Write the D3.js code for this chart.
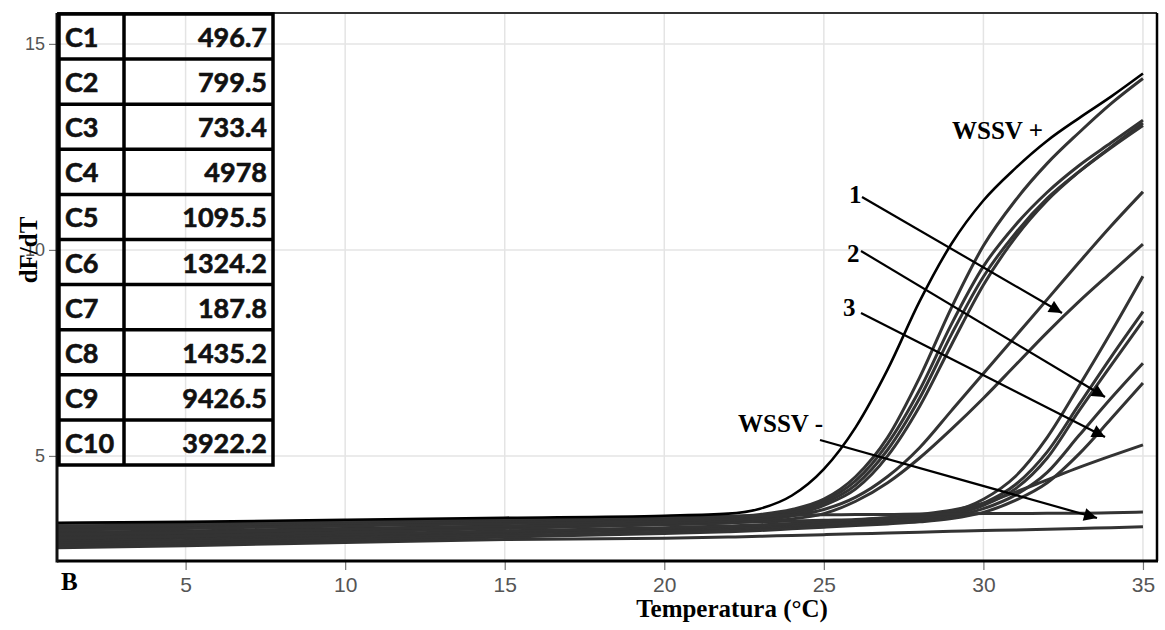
<!DOCTYPE html>
<html>
<head>
<meta charset="utf-8">
<script src="https://cdn.jsdelivr.net/npm/d3@7"></script>
<style>
  html, body { margin: 0; padding: 0; background: #fff; }
  svg { display: block; }
</style>
</head>
<body>
<svg id="chart" width="1165" height="630"></svg>
<script>
// Melt-curve derivative readings (dF/dT) sampled at these temperatures (°C)
const temps = [1, 5, 10, 15, 20, 22, 23, 24, 25, 26, 27, 28, 29, 30, 31, 32, 33, 34, 35];

// Positive control
const wssvPos = [3.38, 3.40, 3.45, 3.50, 3.55, 3.60, 3.72, 4.04, 4.68, 5.70, 7.10, 8.75, 10.15, 11.20, 11.98, 12.65, 13.20, 13.72, 14.28];
// Negative controls
const wssvNeg1 = [3.36, 3.38, 3.42, 3.47, 3.52, 3.54, 3.55, 3.56, 3.57, 3.58, 3.58, 3.59, 3.59, 3.60, 3.60, 3.61, 3.61, 3.62, 3.64];
const wssvNeg2 = [2.77, 2.82, 2.90, 2.97, 3.00, 3.03, 3.05, 3.07, 3.09, 3.11, 3.13, 3.15, 3.17, 3.19, 3.20, 3.22, 3.24, 3.26, 3.28];
// Sample curves
const sampleA1 = [3.30, 3.33, 3.38, 3.42, 3.48, 3.52, 3.58, 3.70, 3.95, 4.50, 5.45, 6.90, 8.60, 10.10, 11.20, 12.10, 12.85, 13.55, 14.16];
const sampleA2 = [3.20, 3.24, 3.30, 3.36, 3.43, 3.48, 3.55, 3.65, 3.90, 4.40, 5.30, 6.60, 8.20, 9.60, 10.60, 11.40, 12.05, 12.60, 13.15];
const sampleA3 = [3.10, 3.14, 3.22, 3.30, 3.38, 3.43, 3.50, 3.60, 3.85, 4.30, 5.15, 6.40, 7.95, 9.35, 10.40, 11.25, 11.90, 12.48, 13.02];
const sampleA4 = [3.00, 3.05, 3.15, 3.24, 3.33, 3.38, 3.45, 3.55, 3.80, 4.20, 5.00, 6.20, 7.70, 9.15, 10.30, 11.20, 11.90, 12.50, 13.08];
const sampleB1 = [3.25, 3.28, 3.33, 3.38, 3.44, 3.47, 3.50, 3.55, 3.70, 4.00, 4.50, 5.20, 6.10, 7.00, 7.90, 8.80, 9.70, 10.58, 11.41];
const sampleB2 = [3.05, 3.10, 3.18, 3.26, 3.34, 3.38, 3.42, 3.47, 3.60, 3.90, 4.35, 4.95, 5.65, 6.40, 7.20, 8.00, 8.75, 9.45, 10.14];
const sampleC1 = [3.15, 3.18, 3.24, 3.30, 3.36, 3.38, 3.40, 3.42, 3.44, 3.46, 3.50, 3.55, 3.65, 3.95, 4.50, 5.45, 6.70, 8.00, 9.36];
const sampleC2 = [2.95, 3.00, 3.08, 3.16, 3.24, 3.27, 3.30, 3.33, 3.36, 3.40, 3.44, 3.50, 3.60, 3.85, 4.30, 5.10, 6.25, 7.40, 8.50];
const sampleC3 = [2.90, 2.95, 3.03, 3.12, 3.20, 3.24, 3.27, 3.30, 3.34, 3.38, 3.42, 3.48, 3.56, 3.80, 4.20, 4.95, 6.10, 7.20, 8.28];
const sampleC4 = [2.85, 2.90, 2.98, 3.07, 3.15, 3.19, 3.22, 3.26, 3.30, 3.34, 3.38, 3.44, 3.52, 3.72, 4.05, 4.60, 5.50, 6.40, 7.25];
const sampleC5 = [2.80, 2.86, 2.94, 3.03, 3.12, 3.16, 3.19, 3.23, 3.27, 3.31, 3.35, 3.40, 3.48, 3.63, 3.92, 4.35, 5.05, 5.90, 6.77];
const sampleC6 = [3.00, 3.04, 3.10, 3.18, 3.26, 3.30, 3.33, 3.36, 3.40, 3.44, 3.50, 3.58, 3.68, 3.85, 4.12, 4.42, 4.72, 5.00, 5.27];

// Inset table
const tableCodes = ["C1", "C2", "C3", "C4", "C5", "C6", "C7", "C8", "C9", "C10"];
const tableValues = ["496.7", "799.5", "733.4", "4978", "1095.5", "1324.2", "187.8", "1435.2", "9426.5", "3922.2"];

// Axis ticks
const xTicks = [5, 10, 15, 20, 25, 30, 35];
const yTicks = [5, 10, 15];

const grayCurves = [wssvNeg2, sampleC5, sampleC4, sampleC3, sampleC2, sampleC6, sampleC1,
                    sampleB2, sampleB1, sampleA4, sampleA3, sampleA2, sampleA1, wssvNeg1];

const svg = d3.select("#chart");
const plot = { left: 57, right: 1157, top: 13, bottom: 561 };

const x = d3.scaleLinear().domain([0.97, 35.44]).range([plot.left, plot.right]);
const y = d3.scaleLinear().domain([2.45, 15.75]).range([plot.bottom, plot.top]);

// grid
const grid = svg.append("g");
grid.selectAll("line.gx").data(xTicks).join("line")
  .attr("x1", d => x(d)).attr("x2", d => x(d))
  .attr("y1", plot.top).attr("y2", plot.bottom)
  .attr("stroke", "#e4e4e4").attr("stroke-width", 1.5);
grid.selectAll("line.gy").data(yTicks).join("line")
  .attr("x1", plot.left).attr("x2", plot.right)
  .attr("y1", d => y(d)).attr("y2", d => y(d))
  .attr("stroke", "#e4e4e4").attr("stroke-width", 1.5);

// axes
const xAxis = svg.append("g")
  .attr("transform", `translate(0,${plot.bottom})`)
  .call(d3.axisBottom(x).tickValues(xTicks).tickSize(9).tickSizeOuter(0).tickPadding(7));
xAxis.select(".domain").remove();
xAxis.selectAll(".tick line").attr("stroke", "#777").attr("stroke-width", 1.2);
xAxis.selectAll(".tick text")
  .attr("fill", "#555").attr("font-family", "Liberation Sans, Arial, sans-serif")
  .attr("font-size", 21);

const yAxis = svg.append("g")
  .attr("transform", `translate(${plot.left},0)`)
  .call(d3.axisLeft(y).tickValues(yTicks).tickSize(8).tickSizeOuter(0).tickPadding(4));
yAxis.select(".domain").remove();
yAxis.selectAll(".tick line").attr("stroke", "#777").attr("stroke-width", 1.2);
yAxis.selectAll(".tick text")
  .attr("fill", "#555").attr("font-family", "Liberation Sans, Arial, sans-serif")
  .attr("font-size", 18);

// curves
const line = d3.line()
  .x((d, i) => x(temps[i]))
  .y(d => y(d))
  .curve(d3.curveMonotoneX);

const curves = svg.append("g");
curves.selectAll("path.sample").data(grayCurves).join("path")
  .attr("class", "sample")
  .attr("d", line)
  .attr("fill", "none")
  .attr("stroke", "#333")
  .attr("stroke-width", 3);
curves.append("path")
  .attr("d", line(wssvPos))
  .attr("fill", "none")
  .attr("stroke", "#000")
  .attr("stroke-width", 2.6);

// frame
const frame = svg.append("g").attr("fill", "none");
frame.append("line").attr("x1", plot.left).attr("x2", plot.right).attr("y1", plot.top).attr("y2", plot.top)
  .attr("stroke", "#333").attr("stroke-width", 2);
frame.append("line").attr("x1", plot.right).attr("x2", plot.right).attr("y1", plot.top).attr("y2", plot.bottom)
  .attr("stroke", "#000").attr("stroke-width", 2.5);
frame.append("line").attr("x1", plot.left).attr("x2", plot.right + 1).attr("y1", plot.bottom).attr("y2", plot.bottom)
  .attr("stroke", "#000").attr("stroke-width", 3);
frame.append("line").attr("x1", plot.left).attr("x2", plot.left).attr("y1", plot.top).attr("y2", plot.bottom + 1.5)
  .attr("stroke", "#111").attr("stroke-width", 3);

// inset table
const tbl = { left: 59, mid: 124, right: 273, top: 14, rowH: 45.1 };
const table = svg.append("g");
table.append("rect")
  .attr("x", tbl.left).attr("y", tbl.top)
  .attr("width", tbl.right - tbl.left).attr("height", tbl.rowH * tableCodes.length)
  .attr("fill", "none").attr("stroke", "#000").attr("stroke-width", 3.5);
table.append("line")
  .attr("x1", tbl.mid).attr("x2", tbl.mid)
  .attr("y1", tbl.top).attr("y2", tbl.top + tbl.rowH * tableCodes.length)
  .attr("stroke", "#000").attr("stroke-width", 3.5);
table.selectAll("line.row").data(tableCodes.slice(1)).join("line")
  .attr("class", "row")
  .attr("x1", tbl.left).attr("x2", tbl.right)
  .attr("y1", (d, i) => tbl.top + tbl.rowH * (i + 1))
  .attr("y2", (d, i) => tbl.top + tbl.rowH * (i + 1))
  .attr("stroke", "#000").attr("stroke-width", 3.5);
const cellText = sel => sel
  .attr("font-family", "Lato, Carlito, sans-serif").attr("font-weight", 700)
  .attr("font-size", 27).attr("fill", "#111")
  .attr("stroke", "#111").attr("stroke-width", 0.6);
table.selectAll("text.code").data(tableCodes).join("text")
  .attr("class", "code")
  .attr("x", tbl.left + 6)
  .attr("y", (d, i) => tbl.top + tbl.rowH * i + 33)
  .call(cellText)
  .text(d => d);
table.selectAll("text.val").data(tableValues).join("text")
  .attr("class", "val")
  .attr("x", tbl.right - 6)
  .attr("y", (d, i) => tbl.top + tbl.rowH * i + 33)
  .attr("text-anchor", "end")
  .call(cellText)
  .text(d => d);

// arrows
const defs = svg.append("defs");
defs.append("marker")
  .attr("id", "head").attr("viewBox", "0 0 10 10")
  .attr("refX", 10).attr("refY", 5)
  .attr("markerWidth", 15).attr("markerHeight", 13)
  .attr("markerUnits", "userSpaceOnUse")
  .attr("orient", "auto")
  .append("path").attr("d", "M0,0 L10,5 L0,10 Z").attr("fill", "#000");

const arrows = [
  { from: [862, 197], to: [1062, 313] },
  { from: [861, 251], to: [1105, 397] },
  { from: [861, 313], to: [1105, 437] },
  { from: [820, 440], to: [1097, 518] }
];
svg.append("g").selectAll("line").data(arrows).join("line")
  .attr("x1", d => d.from[0]).attr("y1", d => d.from[1])
  .attr("x2", d => d.to[0]).attr("y2", d => d.to[1])
  .attr("stroke", "#000").attr("stroke-width", 2.2)
  .attr("marker-end", "url(#head)");

// annotations
const serif = "Liberation Serif, Times New Roman, serif";
const notes = [
  { t: "WSSV +", x: 952, y: 139 },
  { t: "WSSV -", x: 738, y: 432 },
  { t: "1", x: 849, y: 203 },
  { t: "2", x: 847, y: 262 },
  { t: "3", x: 843, y: 316 },
  { t: "B", x: 61, y: 590 }
];
svg.append("g").selectAll("text").data(notes).join("text")
  .attr("x", d => d.x).attr("y", d => d.y)
  .attr("font-family", serif).attr("font-weight", 700)
  .attr("font-size", 25).attr("fill", "#000")
  .text(d => d.t);

// axis titles
svg.append("text")
  .attr("x", 732).attr("y", 617)
  .attr("text-anchor", "middle")
  .attr("font-family", serif).attr("font-weight", 700).attr("font-size", 25)
  .text("Temperatura (°C)");
svg.append("text")
  .attr("transform", "translate(37,250) rotate(-90)")
  .attr("text-anchor", "middle")
  .attr("font-family", serif).attr("font-weight", 700).attr("font-size", 25)
  .text("dF/dT");
</script>
</body>
</html>
